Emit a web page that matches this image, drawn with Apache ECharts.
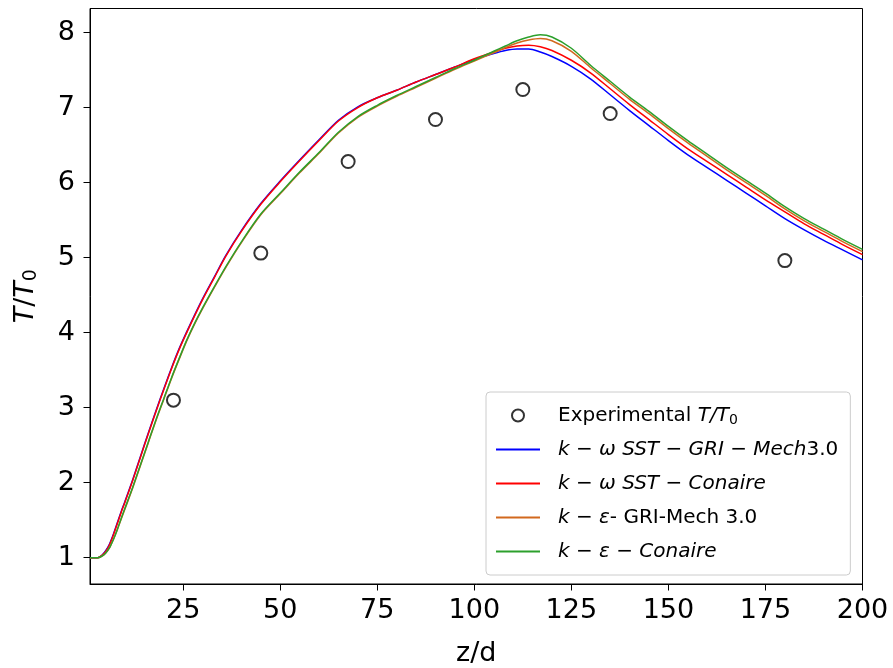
<!DOCTYPE html>
<html>
<head>
<meta charset="utf-8">
<script src="https://cdn.jsdelivr.net/npm/echarts@6/dist/echarts.min.js"></script>
<style>html,body{margin:0;padding:0;background:#fff;}#c{width:893px;height:668px;}</style>
</head>
<body>
<div id="c"></div>
<script>
// ---- data ----
const zGrid = [1,2,3,4,5,6,7,8,9,10,12,14,16,18,20,22,24,26,28,30,33,36,40,45,50,55,60,65,70,75,80,85,90,95,100,105,108,111,114,117,120,125,130,135,140,145,150,155,160,165,170,175,180,185,190,195,200];
const kwSstGri = [1.00,1.00,1.00,1.03,1.09,1.18,1.31,1.46,1.61,1.75,2.04,2.35,2.66,2.96,3.25,3.53,3.79,4.02,4.24,4.45,4.74,5.03,5.36,5.72,6.02,6.30,6.57,6.83,7.01,7.13,7.23,7.34,7.44,7.54,7.64,7.72,7.76,7.78,7.78,7.74,7.68,7.55,7.38,7.17,6.96,6.76,6.56,6.37,6.20,6.03,5.86,5.69,5.52,5.37,5.23,5.10,4.97];
const kwSstCon = [1.00,1.00,1.00,1.03,1.08,1.17,1.30,1.45,1.60,1.74,2.03,2.34,2.65,2.95,3.24,3.52,3.78,4.01,4.23,4.44,4.73,5.02,5.35,5.71,6.01,6.29,6.56,6.82,7.00,7.13,7.23,7.34,7.44,7.54,7.65,7.74,7.79,7.82,7.83,7.81,7.76,7.63,7.46,7.25,7.04,6.84,6.64,6.45,6.28,6.11,5.94,5.77,5.61,5.45,5.31,5.17,5.04];
const keGri = [1.00,1.00,1.00,1.02,1.06,1.13,1.24,1.37,1.51,1.65,1.93,2.23,2.53,2.83,3.11,3.39,3.65,3.90,4.12,4.32,4.60,4.87,5.20,5.57,5.85,6.13,6.39,6.66,6.87,7.02,7.15,7.27,7.39,7.51,7.62,7.73,7.80,7.86,7.90,7.92,7.89,7.75,7.53,7.32,7.11,6.92,6.72,6.53,6.35,6.17,6.00,5.83,5.65,5.49,5.35,5.21,5.08];
const keCon = [1.00,1.00,1.00,1.02,1.06,1.13,1.24,1.37,1.52,1.66,1.94,2.24,2.54,2.84,3.12,3.40,3.66,3.91,4.13,4.33,4.61,4.88,5.21,5.58,5.86,6.14,6.40,6.67,6.88,7.03,7.16,7.28,7.40,7.52,7.63,7.75,7.82,7.89,7.94,7.97,7.94,7.79,7.56,7.35,7.14,6.95,6.75,6.56,6.38,6.20,6.03,5.86,5.68,5.52,5.38,5.24,5.11];
const expZ = [22.5,45,67.5,90,112.5,135,180];
const expT = [3.10,5.06,6.28,6.84,7.24,6.92,4.96];
const xTicks = [25,50,75,100,125,150,175,200];
const yTicks = [1,2,3,4,5,6,7,8];

const names = ['Experimental T/T0','k-w SST-GRI-Mech3.0','k-w SST-Conaire','k-e GRI-Mech 3.0','k-e-Conaire'];
const legendRich = {
  'Experimental T/T0': 'Experimental {i|T/T}{s|0}',
  'k-w SST-GRI-Mech3.0': '{i|k} − {i|ω SST} − {i|GRI} − {i|Mech}3.0',
  'k-w SST-Conaire': '{i|k} − {i|ω SST} − {i|Conaire}',
  'k-e GRI-Mech 3.0': '{i|k} − {i|ε}- GRI-Mech 3.0',
  'k-e-Conaire': '{i|k} − {i|ε} − {i|Conaire}'
};
const pair = (xs, ys) => xs.map((x, i) => [x, ys[i]]);

const FONT = 'DejaVu Sans';
const chart = echarts.init(document.getElementById('c'), null, {renderer: 'canvas'});
const lineSeries = (name, data, color) => ({
  name, type: 'line', data: pair(zGrid, data), showSymbol: false, symbol: 'none',
  smooth: 0.3,
  lineStyle: {color, width: 1.5}, itemStyle: {color}, z: 2
});
chart.setOption({
  animation: false,
  backgroundColor: '#ffffff',
  grid: {left: 90, right: 30.5, top: 8.5, bottom: 84, show: true, borderColor: '#000', borderWidth: 1,
         backgroundColor: 'transparent', containLabel: false, outerBoundsMode: 'none'},
  xAxis: {
    type: 'value', min: 1, max: 200,
    name: 'z/d', nameLocation: 'middle', nameGap: 56,
    nameTextStyle: {fontFamily: FONT, fontSize: 27, color: '#000'},
    axisLine: {show: true, onZero: false, lineStyle: {color: '#000', width: 1}},
    axisTick: {show: true, length: 6.5, lineStyle: {color: '#000'}, customValues: xTicks},
    axisLabel: {fontFamily: FONT, fontSize: 27, color: '#000', margin: 13, customValues: xTicks},
    splitLine: {show: false}
  },
  yAxis: {
    type: 'value', min: 0.65, max: 8.32,
    name: '{i|T}/{i|T}{s|0}', nameLocation: 'middle', nameGap: 49, nameRotate: 90,
    nameTextStyle: {fontFamily: FONT, fontSize: 27, color: '#000',
      rich: {i: {fontFamily: FONT, fontSize: 27, fontStyle: 'italic', color: '#000'},
             s: {fontFamily: FONT, fontSize: 19, color: '#000', padding: [12, 0, 0, 0]}}},
    axisLine: {show: true, onZero: false, lineStyle: {color: '#000', width: 1}},
    axisTick: {show: true, length: 6.5, lineStyle: {color: '#000'}, customValues: yTicks},
    axisLabel: {fontFamily: FONT, fontSize: 27, color: '#000', margin: 15, customValues: yTicks},
    splitLine: {show: false}
  },
  legend: {
    orient: 'vertical', left: 486, top: 392,
    data: names.map((n, i) => i === 0 ? {name: n} : {name: n, itemStyle: {opacity: 0}}),
    itemWidth: 44, itemHeight: 12, itemGap: 11,
    padding: [12, 12, 12, 9],
    backgroundColor: 'rgba(255,255,255,0.8)', borderColor: '#cccccc', borderWidth: 1, borderRadius: 4,
    formatter: name => legendRich[name],
    textStyle: {fontFamily: FONT, fontSize: 20, color: '#000', lineHeight: 23, padding: [0, 0, 0, 13],
      rich: {i: {fontFamily: FONT, fontSize: 20, fontStyle: 'italic', color: '#000', lineHeight: 23},
             s: {fontFamily: FONT, fontSize: 14, color: '#000', lineHeight: 23, padding: [9, 0, 0, 0]}}}
  },
  series: [
    {name: names[0], type: 'scatter', data: pair(expZ, expT), symbol: 'circle', symbolSize: 13,
     itemStyle: {color: 'rgba(255,255,255,0)', borderColor: '#000', borderWidth: 2}, z: 3},
    lineSeries(names[1], kwSstGri, '#0000ff'),
    lineSeries(names[2], kwSstCon, '#ff0000'),
    lineSeries(names[3], keGri, '#d2691e'),
    lineSeries(names[4], keCon, '#2ca02c')
  ]
});
</script>
</body>
</html>
